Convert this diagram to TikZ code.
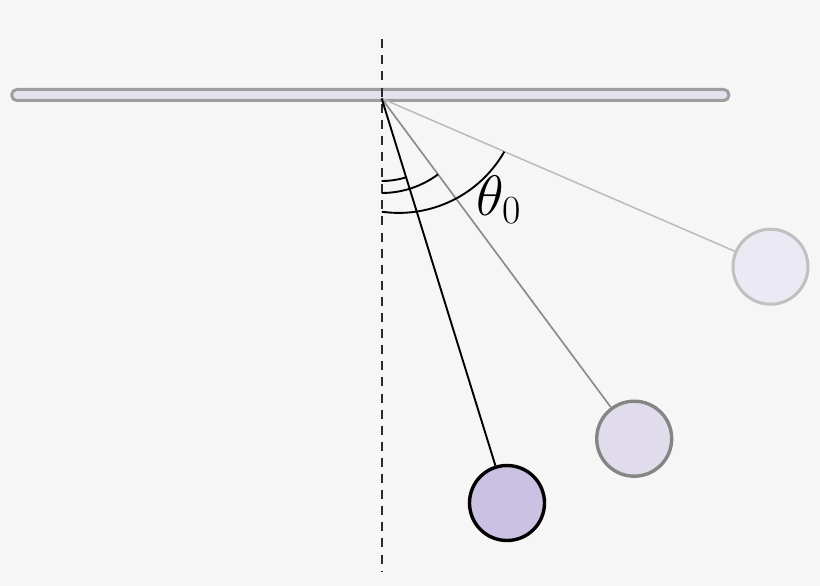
\RequirePackage{fix-cm}
\documentclass[tikz,border=0pt]{standalone}
\begin{document}
\begin{tikzpicture}[x=1pt,y=-1pt,
  barbox/.style={draw=barline, fill=barfill, line width=3pt, rounded corners=5pt, minimum width=717pt, minimum height=11pt, inner sep=0pt},
  ball/.style={circle, minimum size=75pt, inner sep=0pt, line width=3.4pt},
  angarc/.style={draw=black, line width=1.9pt},
  vline/.style={draw=dashc, line width=1.7pt, dash pattern=on 9pt off 7.1pt}
]
\definecolor{bgc}{HTML}{F6F6F6}
\definecolor{barline}{HTML}{9E9E9E}
\definecolor{barfill}{HTML}{E5E2F0}
\definecolor{dashc}{HTML}{2A2A2A}
\definecolor{fillA}{HTML}{CBC1E3}
\definecolor{fillB}{HTML}{E0DCEC}
\definecolor{fillC}{HTML}{EBE9F3}
\definecolor{lineB}{HTML}{858585}
\definecolor{lineC}{HTML}{C0C0C0}
\definecolor{strB}{HTML}{8C8C8C}
\definecolor{strC}{HTML}{BBBBBB}
\fill[bgc] (0,0) rectangle (820,586);
\useasboundingbox (0,0) rectangle (820,586);
% bar
\node[barbox] (bar) at (370.3,95) {};
% pivot and dashed line
\coordinate (P) at (381.7,98.5);
\coordinate (top) at (381.7,39.3);
\coordinate (bot) at (381.7,572);
\draw[vline] (top) -- (bot);
% balls
\node[ball, draw=lineC, fill=fillC, line width=3pt] (b3) at (770.5,266.7) {};
\node[ball, draw=lineB, fill=fillB] (b2) at (634.2,438.7) {};
\node[ball, draw=black, fill=fillA] (b1) at (507,503) {};
% strings
\draw[strC, line width=1.5pt] (P) -- (b3);
\draw[strB, line width=1.7pt] (P) -- (b2);
\draw[black, line width=1.9pt] (P) -- (b1);
% angle arcs
\draw[angarc] (P) ++(90:82.5) arc[start angle=90, end angle=72.8, radius=82.5];
\draw[angarc] (P) ++(90:94.5) arc[start angle=90, end angle=53.4, radius=94.5];
\coordinate (C3) at (398.7,91.2);
\draw[angarc] (C3) ++(98:121.7) arc[start angle=98, end angle=29.8, radius=121.7];
% label
\node[anchor=base west, inner sep=0pt, font=\fontsize{57}{68}\selectfont] (lab) at (476,215) {$\theta_0$};
\end{tikzpicture}
\end{document}
